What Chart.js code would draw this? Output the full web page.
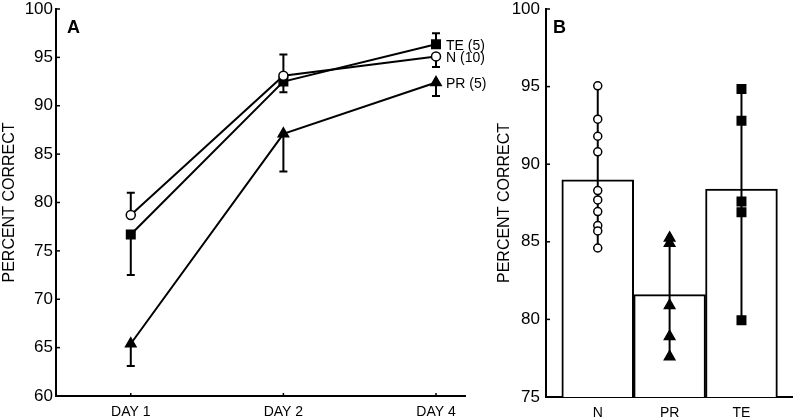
<!DOCTYPE html>
<html>
<head>
<meta charset="utf-8">
<script src="https://cdn.jsdelivr.net/npm/chart.js@4/dist/chart.umd.min.js"></script>
<style>
  html, body { margin: 0; padding: 0; background: #fff; }
  #wrap { position: relative; width: 800px; height: 419px; overflow: hidden; }
  #cA { position: absolute; left: 0; top: 0; }
  #cB { position: absolute; left: 490px; top: 0; }
</style>
</head>
<body>
<div id="wrap">
  <canvas id="cA" width="500" height="419"></canvas>
  <canvas id="cB" width="310" height="419"></canvas>
</div>
<script>
// ---- Panel A data ----
const days = ['DAY 1', 'DAY 2', 'DAY 4'];
const dayIndex = [0, 1, 2];
const nMean = [78.7, 93.1, 95.1];
const nErrEnd = [81.0, 95.3, 94.0];
const teMean = [76.7, 92.5, 96.35];
const teErrEnd = [72.5, 91.4, 97.5];
const prMean = [65.4, 87.1, 92.4];
const prErrEnd = [63.1, 83.2, 91.0];
const seriesLabels = ['N (10)', 'TE (5)', 'PR (5)'];
const yTicksA = [60, 65, 70, 75, 80, 85, 90, 95, 100];

// ---- Panel B data ----
const groups = ['N', 'PR', 'TE'];
const groupIndex = [0, 1, 2];
const barMeans = [89.0, 81.6, 88.4];
const nInd = [95.05, 92.9, 91.8, 90.8, 88.3, 87.7, 86.95, 86.05, 85.7, 84.6];
const prInd = [85.25, 84.9, 80.9, 78.9, 77.6];
const teInd = [94.85, 92.8, 87.6, 86.9, 79.95];
const yTicksB = [75, 80, 85, 90, 95, 100];

Chart.defaults.font.family = '"Liberation Sans", Arial, Helvetica, sans-serif';
Chart.defaults.color = '#000';
Chart.defaults.animation = false;

const FONT = '"Liberation Sans", Arial, Helvetica, sans-serif';

const inwardTicks = {
  id: 'inwardTicks',
  afterDraw(chart, args, opts) {
    const ctx = chart.ctx;
    const ca = chart.chartArea;
    ctx.save();
    ctx.strokeStyle = '#000';
    ctx.lineWidth = 1.5;
    const ys = chart.scales.y;
    ys.ticks.forEach(t => {
      const py = ys.getPixelForValue(t.value);
      ctx.beginPath();
      ctx.moveTo(ca.left, py);
      ctx.lineTo(ca.left + 4, py);
      ctx.stroke();
    });
    if (opts.xTicks) {
      const xs = chart.scales.x;
      xs.ticks.forEach(t => {
        const px = xs.getPixelForValue(t.value);
        ctx.beginPath();
        ctx.moveTo(px, ca.bottom);
        ctx.lineTo(px, ca.bottom - 3);
        ctx.stroke();
      });
    }
    if (opts.letter) {
      ctx.fillStyle = '#000';
      ctx.font = 'bold 18px ' + FONT;
      ctx.textAlign = 'left';
      ctx.textBaseline = 'alphabetic';
      ctx.fillText(opts.letter, ca.left + opts.letterDx, ca.top + 24);
    }
    ctx.restore();
  }
};

const errorBars = {
  id: 'errorBars',
  beforeDatasetsDraw(chart) {
    const ctx = chart.ctx;
    const xs = chart.scales.x, ys = chart.scales.y;
    ctx.save();
    ctx.strokeStyle = '#000';
    ctx.lineWidth = 2;
    chart.data.datasets.forEach(ds => {
      if (!ds.errEnd) return;
      ds.data.forEach((p, i) => {
        const px = xs.getPixelForValue(p.x);
        const py = ys.getPixelForValue(p.y);
        const pe = ys.getPixelForValue(ds.errEnd[i]);
        ctx.beginPath();
        ctx.moveTo(px, py);
        ctx.lineTo(px, pe);
        ctx.moveTo(px - 4, pe);
        ctx.lineTo(px + 4, pe);
        ctx.stroke();
      });
    });
    ctx.restore();
  },
  afterDatasetsDraw(chart) {
    const ctx = chart.ctx;
    const xs = chart.scales.x, ys = chart.scales.y;
    ctx.save();
    ctx.fillStyle = '#000';
    ctx.font = '14px ' + FONT;
    ctx.textAlign = 'left';
    ctx.textBaseline = 'middle';
    chart.data.datasets.forEach(ds => {
      if (!ds.endLabel) return;
      const last = ds.data[ds.data.length - 1];
      ctx.fillText(ds.endLabel, xs.getPixelForValue(last.x) + 10, ys.getPixelForValue(last.y) + 2);
    });
    ctx.restore();
  }
};

function pts(xArr, yArr) { return yArr.map((y, i) => ({ x: xArr[i], y })); }

function noPad(s) { s.paddingTop = 0; s.paddingBottom = 0; s.paddingLeft = 0; s.paddingRight = 0; }

function lineDs(label, mean, errEnd, style, fill, radius) {
  return {
    label,
    data: pts(dayIndex, mean),
    errEnd,
    endLabel: label,
    borderColor: '#000',
    borderWidth: 2,
    pointStyle: style,
    pointRadius: radius,
    pointBackgroundColor: fill,
    pointBorderColor: '#000',
    pointBorderWidth: 1.5,
    tension: 0,
    fill: false
  };
}

new Chart(document.getElementById('cA'), {
  type: 'line',
  data: {
    datasets: [
      lineDs(seriesLabels[0], nMean, nErrEnd, 'circle', '#fff', 4.5),
      lineDs(seriesLabels[1], teMean, teErrEnd, 'rect', '#000', 6),
      lineDs(seriesLabels[2], prMean, prErrEnd, 'triangle', '#000', 6)
    ]
  },
  options: {
    responsive: false,
    layout: { padding: { top: 9, right: 35, left: 0, bottom: 0 } },
    plugins: {
      legend: { display: false },
      tooltip: { enabled: false },
      inwardTicks: { xTicks: true, letter: 'A', letterDx: 11 }
    },
    scales: {
      x: {
        type: 'linear',
        min: -0.49, max: 2.19,
        offset: false,
        afterBuildTicks: s => { s.ticks = dayIndex.map(v => ({ value: v })); },
        afterFit: s => { s.height = 23; noPad(s); },
        ticks: {
          autoSkip: false, maxRotation: 0, padding: 8,
          font: { size: 14 }, color: '#000',
          callback: (v, i) => days[i]
        },
        grid: { display: true, drawOnChartArea: false, drawTicks: false },
        border: { display: true, color: '#000', width: 2 }
      },
      y: {
        min: 60, max: 100,
        afterBuildTicks: s => { s.ticks = yTicksA.map(v => ({ value: v })); },
        afterFit: s => { s.width = 56; noPad(s); },
        ticks: { padding: 3, font: { size: 17 }, color: '#000' },
        grid: { display: true, drawOnChartArea: false, drawTicks: false },
        border: { display: true, color: '#000', width: 2 },
        title: { display: true, text: 'PERCENT CORRECT', font: { size: 16 }, color: '#000', padding: { top: 0, bottom: 0 } }
      }
    }
  },
  plugins: [errorBars, inwardTicks]
});

function indDs(vals, gi, style, fill, radius) {
  return {
    type: 'scatter',
    data: vals.map(v => ({ x: groupIndex[gi], y: v })),
    showLine: true,
    borderColor: '#000',
    borderWidth: 2,
    pointStyle: style,
    pointRadius: radius,
    pointBackgroundColor: fill,
    pointBorderColor: '#000',
    pointBorderWidth: 1.5,
    order: 0
  };
}

new Chart(document.getElementById('cB'), {
  type: 'bar',
  data: {
    datasets: [
      {
        type: 'bar',
        data: pts(groupIndex, barMeans),
        backgroundColor: '#fff',
        borderColor: '#000',
        borderWidth: 2,
        borderSkipped: 'start',
        barPercentage: 1,
        categoryPercentage: 1,
        order: 10
      },
      indDs(nInd, 0, 'circle', '#fff', 4),
      indDs(prInd, 1, 'triangle', '#000', 6),
      indDs(teInd, 2, 'rect', '#000', 6)
    ]
  },
  options: {
    responsive: false,
    layout: { padding: { top: 9, right: 0, left: 0, bottom: 0 } },
    plugins: {
      legend: { display: false },
      tooltip: { enabled: false },
      inwardTicks: { xTicks: false, letter: 'B', letterDx: 7 }
    },
    scales: {
      x: {
        type: 'linear',
        min: -0.72, max: 2.71,
        offset: false,
        afterBuildTicks: s => { s.ticks = groupIndex.map(v => ({ value: v })); },
        afterFit: s => { s.height = 22; noPad(s); },
        ticks: {
          autoSkip: false, maxRotation: 0, padding: 8,
          font: { size: 14 }, color: '#000',
          callback: (v, i) => groups[i]
        },
        grid: { display: true, drawOnChartArea: false, drawTicks: false, offset: false },
        border: { display: true, color: '#000', width: 2 }
      },
      y: {
        min: 75, max: 100,
        afterBuildTicks: s => { s.ticks = yTicksB.map(v => ({ value: v })); },
        afterFit: s => { s.width = 56; noPad(s); },
        ticks: { padding: 6, font: { size: 17 }, color: '#000' },
        grid: { display: true, drawOnChartArea: false, drawTicks: false },
        border: { display: true, color: '#000', width: 2 },
        title: { display: true, text: 'PERCENT CORRECT', font: { size: 16 }, color: '#000', padding: { top: 5, bottom: 0 } }
      }
    }
  },
  plugins: [inwardTicks]
});
</script>
</body>
</html>
